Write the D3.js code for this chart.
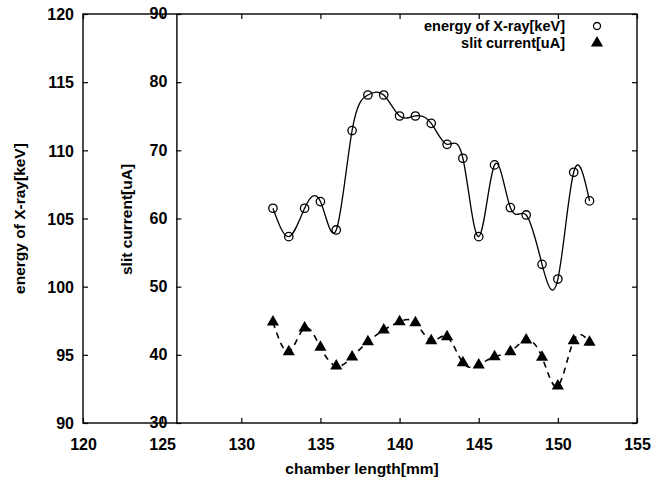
<!DOCTYPE html>
<html>
<head>
<meta charset="utf-8">
<script src="https://cdn.jsdelivr.net/npm/d3@7"></script>
<style>
  html, body { margin: 0; padding: 0; background: #fff; }
  svg { display: block; }
  text { font-family: "Liberation Sans", Arial, sans-serif; font-weight: bold; fill: #000; }
</style>
</head>
<body>
<svg id="chart" width="655" height="485"></svg>
<script>
// Chamber length positions [mm]
const chamberLength = [132, 133, 134, 135, 136, 137, 138, 139, 140, 141, 142,
                       143, 144, 145, 146, 147, 148, 149, 150, 151, 152];
// Energy of X-ray [keV] (left axis)
const xrayEnergy = [105.75, 103.67, 105.75, 106.24, 104.16, 111.45, 114.06, 114.06,
                    112.52, 112.52, 111.98, 110.44, 109.42, 103.67, 108.93, 105.8,
                    105.26, 101.64, 100.56, 108.39, 106.29];
// Slit current [uA] (inner axis)
const slitCurrent = [44.8, 40.46, 43.94, 41.1, 38.36, 39.67, 41.93, 43.64, 44.86,
                     44.71, 42.07, 42.66, 38.85, 38.51, 39.73, 40.46, 42.18, 39.64,
                     35.43, 42.07, 41.84];

const xTicks = [120, 125, 130, 135, 140, 145, 150, 155];
const energyTicks = [90, 95, 100, 105, 110, 115, 120];
const currentTicks = [30, 40, 50, 60, 70, 80, 90];
const legendLabels = ["energy of X-ray[keV]", "slit current[uA]"];
const innerAxisAt = 125.9;

const svg = d3.select("#chart");
const plotL = 83, plotR = 637, plotT = 14, plotB = 423;

const x = d3.scaleLinear().domain([120, 155]).range([plotL, plotR]);
const yE = d3.scaleLinear().domain([90, 120]).range([plotB, plotT]);
const yC = d3.scaleLinear().domain([30, 90]).range([plotB, plotT]);

const tickLen = 5;
const titleSize = "15.5px", tickSize = "16px", legendSize = "14.5px";

// Frame
svg.append("rect")
  .attr("x", plotL).attr("y", plotT)
  .attr("width", plotR - plotL).attr("height", plotB - plotT)
  .attr("fill", "none").attr("stroke", "#000").attr("stroke-width", 1.4);

// Left axis (energy) with inward ticks, mirrored on the right frame
const gLeft = svg.append("g").attr("transform", `translate(${plotL},0)`)
  .call(d3.axisLeft(yE).tickValues(energyTicks).tickSizeInner(-tickLen).tickSizeOuter(0).tickPadding(9));
gLeft.select(".domain").remove();
gLeft.selectAll("text").style("font-size", tickSize).attr("dy", "0.36em");
gLeft.selectAll("line").attr("stroke-width", 1.2);

const gRight = svg.append("g").attr("transform", `translate(${plotR},0)`)
  .call(d3.axisRight(yE).tickValues(energyTicks).tickSizeInner(-tickLen).tickSizeOuter(0).tickFormat(""));
gRight.select(".domain").remove();
gRight.selectAll("line").attr("stroke-width", 1.2);

// Bottom axis with inward ticks, mirrored on top
const gBottom = svg.append("g").attr("transform", `translate(0,${plotB})`)
  .call(d3.axisBottom(x).tickValues(xTicks).tickSizeInner(-tickLen).tickSizeOuter(0).tickPadding(16));
gBottom.select(".domain").remove();
gBottom.selectAll("text").style("font-size", tickSize);
gBottom.selectAll("line").attr("stroke-width", 1.2);

const gTop = svg.append("g").attr("transform", `translate(0,${plotT})`)
  .call(d3.axisTop(x).tickValues(xTicks).tickSizeInner(-tickLen).tickSizeOuter(0).tickFormat(""));
gTop.select(".domain").remove();
gTop.selectAll("line").attr("stroke-width", 1.2);

// Inner axis (slit current)
const gInner = svg.append("g").attr("transform", `translate(${x(innerAxisAt)},0)`)
  .call(d3.axisLeft(yC).tickValues(currentTicks).tickSizeInner(-tickLen).tickSizeOuter(0).tickPadding(9));
gInner.select(".domain").attr("stroke-width", 1.4);
gInner.selectAll("text").style("font-size", tickSize).attr("dy", "0.3em");
gInner.selectAll("line").attr("stroke-width", 1.2);

// Axis titles
svg.append("text")
  .attr("transform", `translate(25,${(plotT + plotB) / 2}) rotate(-90)`)
  .attr("text-anchor", "middle").style("font-size", titleSize)
  .text("energy of X-ray[keV]");
svg.append("text")
  .attr("transform", `translate(132,${(plotT + plotB) / 2 + 1}) rotate(-90)`)
  .attr("text-anchor", "middle").style("font-size", titleSize)
  .text("slit current[uA]");
svg.append("text")
  .attr("x", 362).attr("y", 474)
  .attr("text-anchor", "middle").style("font-size", titleSize)
  .text("chamber length[mm]");

// Energy series: natural cubic spline with open circles
const energyPts = chamberLength.map((d, i) => [d, xrayEnergy[i]]);
svg.append("path")
  .datum(energyPts)
  .attr("fill", "none").attr("stroke", "#000").attr("stroke-width", 1.3)
  .attr("d", d3.line().x(d => x(d[0])).y(d => yE(d[1])).curve(d3.curveNatural));
svg.append("g").selectAll("circle")
  .data(energyPts).join("circle")
  .attr("cx", d => x(d[0])).attr("cy", d => yE(d[1])).attr("r", 4.2)
  .attr("fill", "none").attr("stroke", "#000").attr("stroke-width", 1.3);

// Slit current series: dashed spline with filled triangles
const currentPts = chamberLength.map((d, i) => [d, slitCurrent[i]]);
svg.append("path")
  .datum(currentPts)
  .attr("fill", "none").attr("stroke", "#000").attr("stroke-width", 1.6)
  .attr("stroke-dasharray", "6,5")
  .attr("d", d3.line().x(d => x(d[0])).y(d => yC(d[1])).curve(d3.curveNatural));
const tri = d3.symbol().type(d3.symbolTriangle).size(64);
svg.append("g").selectAll("path")
  .data(currentPts).join("path")
  .attr("transform", d => `translate(${x(d[0])},${yC(d[1])})`)
  .attr("d", tri).attr("fill", "#000");

// Legend
const legendX = 565, markerX = 597;
const legendY = [26, 43];
svg.append("text").attr("x", legendX).attr("y", legendY[0]).attr("dy", "0.36em")
  .attr("text-anchor", "end").style("font-size", legendSize).text(legendLabels[0]);
svg.append("circle").attr("cx", markerX).attr("cy", legendY[0]).attr("r", 3.5)
  .attr("fill", "none").attr("stroke", "#000").attr("stroke-width", 1.3);
svg.append("text").attr("x", legendX).attr("y", legendY[1]).attr("dy", "0.36em")
  .attr("text-anchor", "end").style("font-size", legendSize).text(legendLabels[1]);
svg.append("path").attr("transform", `translate(${markerX},${legendY[1]})`)
  .attr("d", tri).attr("fill", "#000");
</script>
</body>
</html>
